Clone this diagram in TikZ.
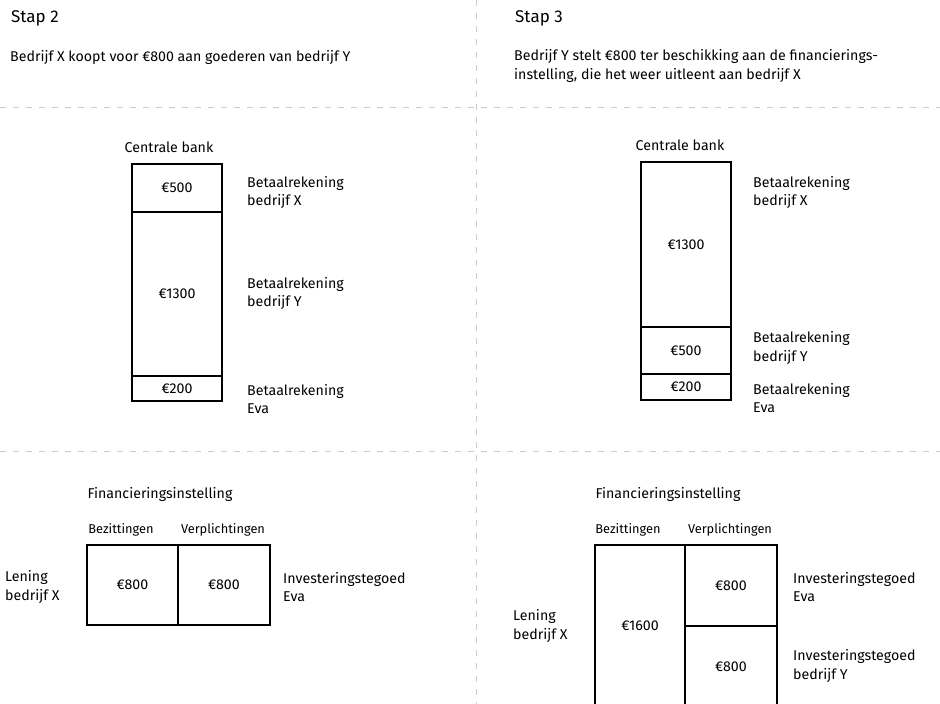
\documentclass[tikz,border=0pt]{standalone}
\usepackage{fontspec}
\setmainfont{Fira Sans}
\usetikzlibrary{positioning}

\begin{document}
\begin{tikzpicture}[x=1pt, y=-1pt,
    every node/.style={font=\fontsize{14.2}{18.5}\selectfont},
    cell/.style={draw, line width=1.3pt, outer sep=0pt, inner sep=0pt, minimum width=90pt},
    lbl/.style={anchor=west, align=left, inner sep=0pt},
    head/.style={anchor=west, inner sep=0pt, font=\fontsize{17}{20}\selectfont},
    side/.style={font=\fontsize{12.8}{14}\selectfont},
    sep/.style={draw=black!20, line width=1pt, dash pattern=on 6pt off 7pt}]
    \clip (0,0) rectangle (940,704);

    % Dashed separators between the panels
    \coordinate (topL) at (0,107);
    \coordinate (topR) at (940,107);
    \coordinate (midL) at (0,451);
    \coordinate (midR) at (940,451);
    \coordinate (vTop) at (476,0);
    \coordinate (vBot) at (476,704);
    \draw[sep] (topL) -- (topR);
    \draw[sep] (midL) -- (midR);
    \draw[sep] (vTop) -- (vBot);

    % Headings
    \node[head] (stap2) at (11,18) {Stap 2};
    \node[lbl] (txt2) at (10,57) {Bedrijf X koopt voor €800 aan goederen van bedrijf Y};
    \node[head] (stap3) at (515,18) {Stap 3};
    \node[lbl] (txt3) at (514,66) {Bedrijf Y stelt €800 ter beschikking aan de financierings-\\instelling, die het weer uitleent aan bedrijf X};

    % Centrale bank, stap 2
    \node (cbL) at (169,147) {Centrale bank};
    \node[cell, minimum height=48pt] (bxL) at (177,188) {€500};
    \node[cell, minimum height=164pt, below=0pt of bxL] (byL) {€1300};
    \node[cell, minimum height=25pt, below=0pt of byL] (beL) {€200};
    \node[lbl] (rxL) at (247,192.5) {Betaalrekening\\bedrijf X};
    \node[lbl] (ryL) at (247,293.5) {Betaalrekening\\bedrijf Y};
    \node[lbl] (reL) at (247,399) {Betaalrekening\\Eva};

    % Centrale bank, stap 3
    \node (cbR) at (680,145) {Centrale bank};
    \node[cell, minimum height=165pt] (bxR) at (686,244.5) {€1300};
    \node[cell, minimum height=47pt, below=0pt of bxR] (byR) {€500};
    \node[cell, minimum height=26pt, below=0pt of byR] (beR) {€200};
    \node[lbl] (rxR) at (753,192.5) {Betaalrekening\\bedrijf X};
    \node[lbl] (ryR) at (753,348) {Betaalrekening\\bedrijf Y};
    \node[lbl] (reR) at (753,398) {Betaalrekening\\Eva};

    % Financieringsinstelling, stap 2
    \node (fiL) at (160,494) {Financieringsinstelling};
    \node[side] (bzL) at (121,530) {Bezittingen};
    \node[side] (vpL) at (223,530) {Verplichtingen};
    \node[cell, minimum width=91pt, minimum height=80pt] (leL) at (132.5,585) {€800};
    \node[cell, minimum width=92pt, minimum height=80pt, right=0pt of leL] (ivL) {€800};
    \node[lbl] (lnL) at (5,587) {Lening\\bedrijf X};
    \node[lbl] (inL) at (283,587) {Investeringstegoed\\Eva};

    % Financieringsinstelling, stap 3
    \node (fiR) at (668,494) {Financieringsinstelling};
    \node[side] (bzR) at (628,530) {Bezittingen};
    \node[side] (vpR) at (730,530) {Verplichtingen};
    \node[cell, minimum width=90pt, minimum height=162pt] (leR) at (640,626) {€1600};
    \node[cell, minimum width=92pt, minimum height=81pt, anchor=north west] (ivR) at (leR.north east) {€800};
    \node[cell, minimum width=92pt, minimum height=81pt, below=0pt of ivR] (iyR) {€800};
    \node[lbl] (lnR) at (513,626) {Lening\\bedrijf X};
    \node[lbl] (inR) at (793,587) {Investeringstegoed\\Eva};
    \node[lbl] (iiR) at (793,666) {Investeringstegoed\\bedrijf Y};
\end{tikzpicture}
\end{document}
